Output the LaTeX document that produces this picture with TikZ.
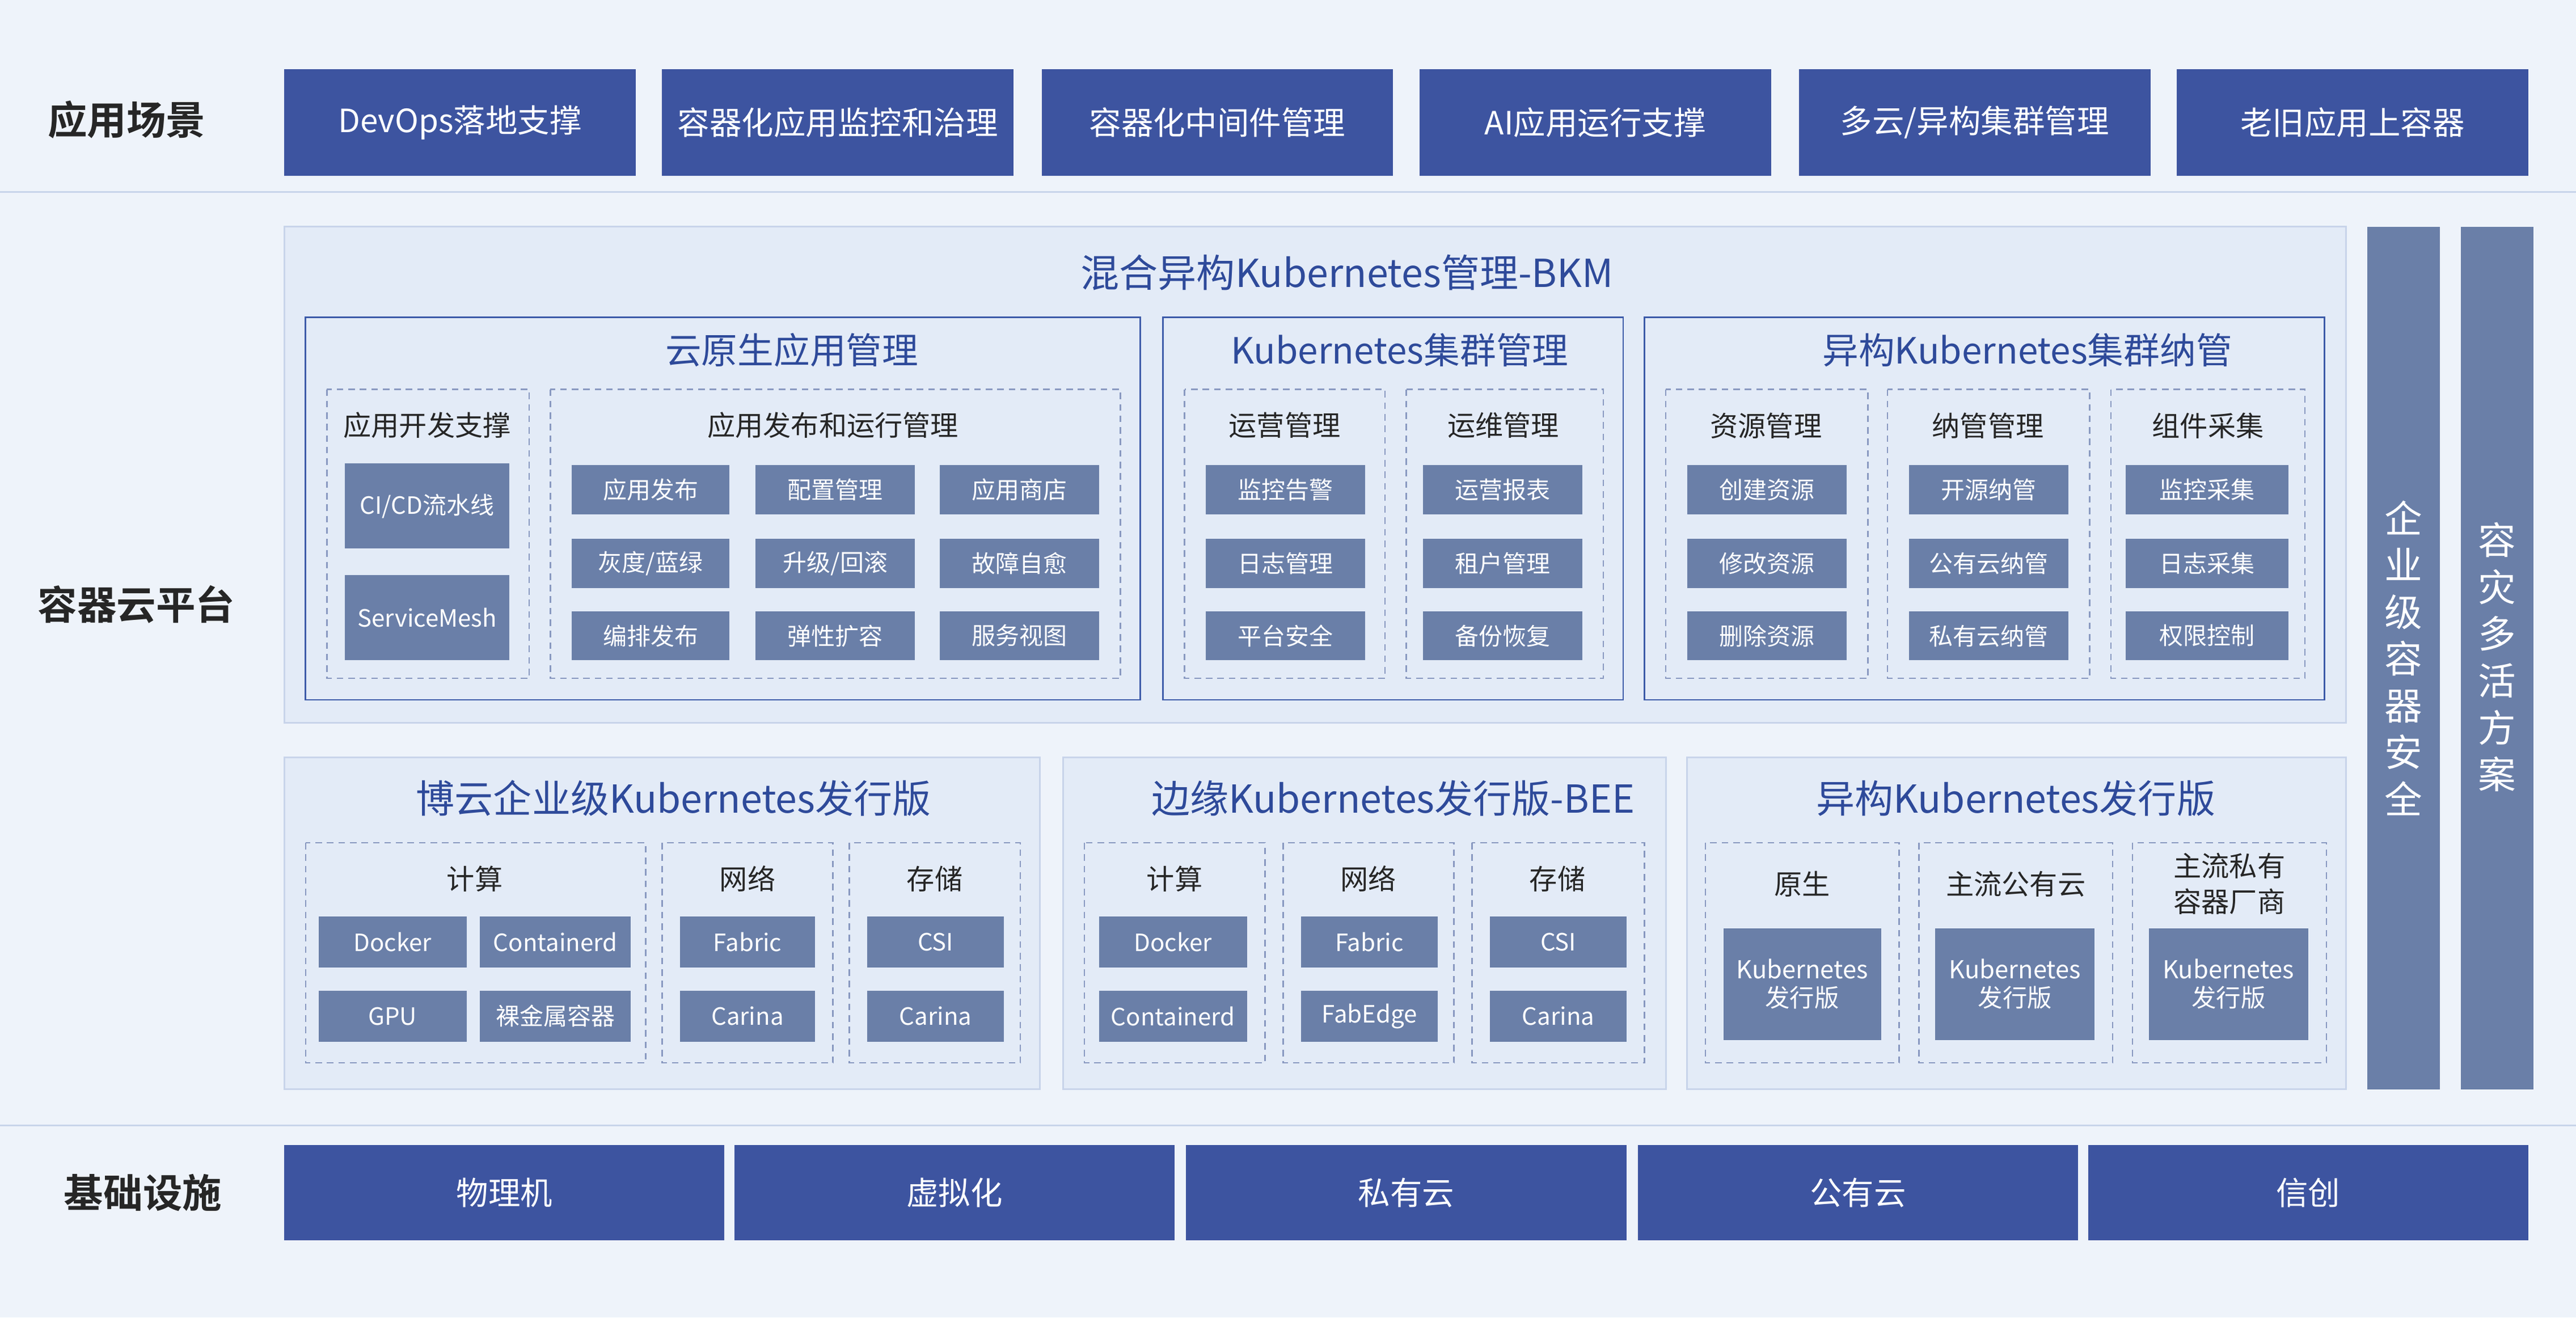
\documentclass[tikz,border=0pt]{standalone}
\usepackage{fontspec}
\setmainfont{Noto Sans CJK SC}
\newfontfamily\cjkb{Noto Sans CJK SC Bold}
\begin{document}
\begin{tikzpicture}[x=1pt,y=-1pt,
 dk/.style={fill=dkblue,draw=none,text=white,font=\fontsize{19.5}{22}\selectfont},
 gb/.style={fill=gblue,draw=none,text=white,font=\fontsize{14.5}{17}\selectfont,align=center},
 pnl/.style={fill=pnlc,draw=pnlb,line width=1pt},
 sub/.style={draw=subb,line width=1pt},
 dsh/.style={draw=dshc,dashed,line width=0.8pt,dash pattern=on 4pt off 3pt},
 ttl/.style={text=ttlc,font=\fontsize{22}{25}\selectfont},
 lab/.style={text=black!85,font=\fontsize{17}{19}\selectfont,align=center},
 row/.style={text=black!85,font=\cjkb\fontsize{24}{27}\selectfont}]
\definecolor{bg}{HTML}{EEF3FA}\definecolor{dkblue}{HTML}{3D54A0}
\definecolor{gblue}{HTML}{6A7FA8}\definecolor{pnlc}{HTML}{E3EBF7}
\definecolor{pnlb}{HTML}{C8D4EA}\definecolor{subb}{HTML}{3D5BA9}
\definecolor{dshc}{HTML}{8898C0}\definecolor{ttlc}{HTML}{2E4A9A}
\fill[bg] (0,0) rectangle (1568,802);
\useasboundingbox (0,0) rectangle (1568,802);
\draw[pnlb,line width=1pt] (0,117) -- (1568,117) (0,685) -- (1568,685);
\node[row] (r1) at (77,73) {应用场景};
\node[row] (r2) at (83,368) {容器云平台};
\node[row] (r3) at (87,726) {基础设施};
% top
\foreach \a/\b/\t [count=\i] in {173/387/{DevOps落地支撑},403/617/{容器化应用监控和治理},634/848/{容器化中间件管理},864/1078/{AI应用运行支撑},1095/1309/{多云/异构集群管理},1325/1539/{老旧应用上容器}}
 \path[dk] (\a,42) rectangle (\b,107) node[midway] (t\i) {\t};
% bottom
\foreach \a/\b/\t [count=\i] in {173/441/物理机,447/715/虚拟化,722/990/私有云,997/1265/公有云,1271/1539/信创}
 \path[dk] (\a,697) rectangle (\b,755) node[midway] (b\i) {\t};
% BKM
\path[pnl] (173,138) rectangle (1428,440);
\node[ttl,font=\fontsize{23.5}{26}\selectfont] (bkm) at (820,166) {混合异构Kubernetes管理-BKM};
\draw[sub] (186,193) rectangle (694,426);
\draw[sub] (708,193) rectangle (988,426);
\draw[sub] (1001,193) rectangle (1415,426);
\node[ttl] (s1) at (482,213) {云原生应用管理};
\node[ttl] (s2) at (852,213) {Kubernetes集群管理};
\node[ttl] (s3) at (1234,213) {异构Kubernetes集群纳管};
\foreach \a/\b in {199/322,335/682,721/843,856/976,1014/1137,1149/1272,1285/1403}
 \draw[dsh] (\a,237) rectangle (\b,413);
\node[lab] (l1) at (260,259) {应用开发支撑};
\node[lab] (l2) at (507,259) {应用发布和运行管理};
\node[lab] (l3) at (782,259) {运营管理};
\node[lab] (l4) at (915,259) {运维管理};
\node[lab] (l5) at (1075,259) {资源管理};
\node[lab] (l6) at (1210,259) {纳管管理};
\node[lab] (l7) at (1344,259) {组件采集};
\path[gb] (210,282) rectangle (310,334) node[midway] (cicd) {CI/CD流水线};
\path[gb] (210,350) rectangle (310,402) node[midway] (sm) {ServiceMesh};
\foreach \a/\b/\ta/\tb/\tc [count=\i] in {
 348/444/{应用发布}/{灰度/蓝绿}/{编排发布},460/557/{配置管理}/{升级/回滚}/{弹性扩容},572/669/{应用商店}/{故障自愈}/{服务视图},
 734/831/监控告警/日志管理/平台安全,866/963/运营报表/租户管理/备份恢复,
 1027/1124/创建资源/修改资源/删除资源,1162/1259/开源纳管/公有云纳管/私有云纳管,1294/1393/监控采集/日志采集/权限控制}{
 \path[gb] (\a,283) rectangle (\b,313) node[midway] (g\i a) {\ta};
 \path[gb] (\a,328) rectangle (\b,358) node[midway] (g\i b) {\tb};
 \path[gb] (\a,372) rectangle (\b,402) node[midway] (g\i c) {\tc};}
% bottom panels
\path[pnl] (173,461) rectangle (633,663);
\path[pnl] (647,461) rectangle (1014,663);
\path[pnl] (1027,461) rectangle (1428,663);
\node[ttl,font=\fontsize{23.5}{26}\selectfont] (p1) at (410,486) {博云企业级Kubernetes发行版};
\node[ttl,font=\fontsize{23.5}{26}\selectfont] (p2) at (848,486) {边缘Kubernetes发行版-BEE};
\node[ttl,font=\fontsize{23.5}{26}\selectfont] (p3) at (1227,486) {异构Kubernetes发行版};
\foreach \a/\b in {186/393,403/507,517/621,660/770,781/885,896/1001,1038/1156,1168/1286,1298/1416}
 \draw[dsh] (\a,513) rectangle (\b,647);
\node[lab] (q1) at (289,535) {计算};
\node[lab] (q2) at (455,535) {网络};
\node[lab] (q3) at (569,535) {存储};
\node[lab] (q4) at (715,535) {计算};
\node[lab] (q5) at (833,535) {网络};
\node[lab] (q6) at (948,535) {存储};
\node[lab] (q7) at (1097,538) {原生};
\node[lab] (q8) at (1227,538) {主流公有云};
\node[lab,font=\fontsize{17}{22}\selectfont] (q9) at (1357,538) {主流私有\\容器厂商};
\foreach \a/\b/\ta/\tb [count=\i] in {194/284/Docker/GPU,292/384/Containerd/裸金属容器,414/496/Fabric/Carina,528/611/CSI/Carina,669/759/Docker/Containerd,792/875/Fabric/FabEdge,907/990/CSI/Carina}{
 \path[gb] (\a,558) rectangle (\b,589) node[midway] (h\i a) {\ta};
 \path[gb] (\a,603) rectangle (\b,634) node[midway] (h\i b) {\tb};}
\foreach \a/\b [count=\i] in {1049/1145,1178/1275,1308/1405}
 \path[gb] (\a,565) rectangle (\b,633) node[midway,font=\fontsize{15}{17}\selectfont] (k\i) {Kubernetes\\发行版};
% vertical bars
\path[fill=gblue] (1441,138) rectangle (1485,663) node[midway,text=white,align=center,font=\fontsize{23}{28.5}\selectfont] (v1) {企\\业\\级\\容\\器\\安\\全};
\path[fill=gblue] (1498,138) rectangle (1542,663);
\node[text=white,align=center,font=\fontsize{23}{28.5}\selectfont] (v2) at (1520,400) {容\\灾\\多\\活\\方\\案};
\end{tikzpicture}
\end{document}
